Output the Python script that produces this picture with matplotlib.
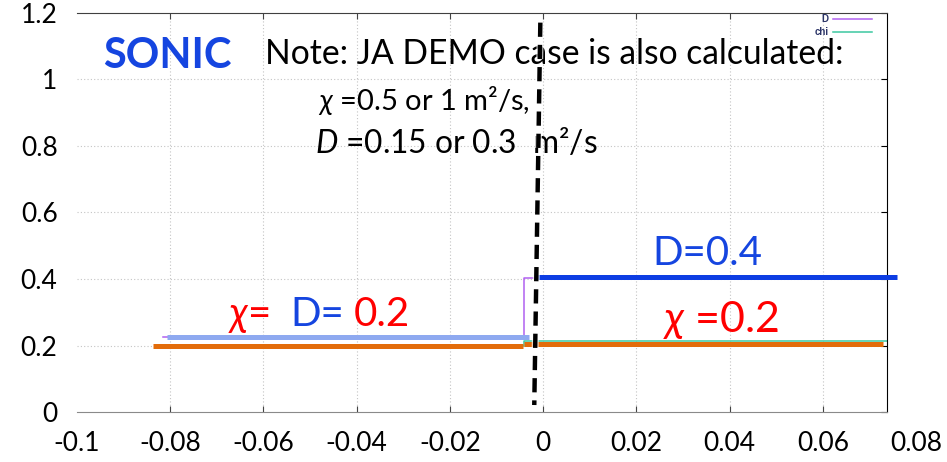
import matplotlib
matplotlib.use("Agg")
import matplotlib.pyplot as plt
import matplotlib.patheffects as pe

plt.rcParams['font.family'] = ['Lato', 'DejaVu Sans']
plt.rcParams['mathtext.fontset'] = 'custom'
plt.rcParams['mathtext.rm'] = 'Lato'
plt.rcParams['mathtext.it'] = 'Lato:italic'

# ---- data -------------------------------------------------------------
x_ticks = [-0.1, -0.08, -0.06, -0.04, -0.02, 0.0, 0.02, 0.04, 0.06, 0.08]
x_tick_labels = ["-0.1", "-0.08", "-0.06", "-0.04", "-0.02", "0", "0.02", "0.04", "0.06", "0.08"]
y_ticks = [0, 0.2, 0.4, 0.6, 0.8, 1.0, 1.2]
y_tick_labels = ["0", "0.2", "0.4", "0.6", "0.8", "1", "1.2"]

# simulation profiles (gnuplot lines)
D_x = [-0.0815, -0.0041, -0.0041, 0.0738]
D_y = [0.225, 0.225, 0.402, 0.402]
chi_x = [-0.0815, -0.0041, -0.0041, 0.0738]
chi_y = [0.200, 0.200, 0.213, 0.213]

# highlighted profiles (overlay bars)
chi_left_x = [-0.0837, -0.0043]
chi_left_y = [0.198, 0.198]
chi_right_x = [-0.0041, 0.0729]
chi_right_y = [0.204, 0.204]
D_left_x = [-0.0807, -0.0030]
D_left_y = [0.225, 0.225]
D_right_x = [-0.0013, 0.0760]
D_right_y = [0.405, 0.405]

# separatrix marker (dashed)
sep_x = [-0.0006, -0.0019]
sep_y = [1.171, 0.021]

frame_right = 0.0738

# ---- figure -------------------------------------------------------------
fig = plt.figure(figsize=(9.47, 4.62), dpi=100)
ax = fig.add_axes([0.0813, 0.1082, 0.886, 0.8637])
ax.set_xlim(-0.1, 0.08)
ax.set_ylim(0, 1.2)

grid_kw = dict(color='#c4c4c4', lw=0.8, linestyle=(0, (1, 2)), zorder=0)
for yv in y_ticks[1:-1]:
    ax.plot([-0.1, frame_right], [yv, yv], **grid_kw)
for xv in x_ticks[1:-1]:
    ax.plot([xv, xv], [0, 1.2], **grid_kw)

# thin simulation lines
ax.plot(D_x, D_y, color='#b060f0', lw=1.1, label='D', zorder=2)
ax.plot(chi_x, chi_y, color='#3cc8a0', lw=1.1, label='chi', zorder=2)

# thick overlay lines
ax.plot(D_left_x, D_left_y, color='#8ea9f0', lw=3.6, solid_capstyle='butt', zorder=3)
ax.plot(chi_left_x, chi_left_y, color='#e36c0a', lw=3.6, solid_capstyle='butt', zorder=3)
ax.plot(chi_right_x, chi_right_y, color='#e36c0a', lw=3.6, solid_capstyle='butt', zorder=3)
ax.plot(D_right_x, D_right_y, color='#0d3de3', lw=3.6, solid_capstyle='butt', zorder=3, clip_on=False)

ax.plot(sep_x, sep_y, color='black', lw=3.2, linestyle=(0, (3.2, 1.8)), zorder=5,
        path_effects=[pe.Stroke(linewidth=5, foreground='white', alpha=0.7), pe.Normal()])

# axes styling
ax.spines['left'].set_visible(False)
ax.spines['top'].set_bounds(-0.1, frame_right)
ax.spines['top'].set_color('#404040')
ax.spines['bottom'].set_bounds(-0.1, frame_right)
ax.spines['bottom'].set_color('#8a8a8a')
ax.spines['right'].set_position(('data', frame_right))
ax.spines['right'].set_color('black')

ax.set_xticks(x_ticks)
ax.set_xticklabels(x_tick_labels)
ax.set_yticks(y_ticks)
ax.set_yticklabels(y_tick_labels)
ax.tick_params(axis='x', direction='in', length=4, width=0.8, color='#444444',
               top=True, labelsize=19, pad=14, labelcolor='black')
ax.tick_params(axis='y', left=False, right=True, direction='in', length=4, width=0.8,
               labelsize=19, pad=14, labelcolor='black')
xt = ax.xaxis.get_major_ticks()
for i in (0, -1):
    xt[i].tick1line.set_visible(False)
    xt[i].tick2line.set_visible(False)

# legend
leg = ax.legend(loc='upper right', bbox_to_anchor=(872 / 947, 448 / 462),
                bbox_transform=fig.transFigure, frameon=False,
                markerfirst=False, handlelength=4.0, handletextpad=0.5,
                labelspacing=0.3, borderpad=0, borderaxespad=0,
                prop={'family': 'Liberation Sans', 'size': 7, 'weight': 'bold'})
for t in leg.get_texts():
    t.set_color('#2b3467')

# annotations
blue = '#1545e0'
ax.text(-0.0944, 1.036, 'SONIC', color=blue, fontsize=30, fontweight='bold',
        ha='left', va='baseline')
ax.text(-0.0596, 1.048, 'Note: JA DEMO case is also calculated:', color='black',
        fontsize=24.2, ha='left', va='baseline')
ax.text(-0.0483, 0.907, r'$\chi$ =0.5 or 1 m²/s,', color='black', fontsize=21,
        ha='left', va='baseline')
ax.text(-0.0489, 0.778, r'$D$ =0.15 or 0.3  m²/s', color='black', fontsize=22.8,
        ha='left', va='baseline')
ax.text(0.0234, 0.441, 'D=0.4', color=blue, fontsize=29, ha='left', va='baseline')
ax.text(0.0257, 0.240, r'$\chi$ =0.2', color='red', fontsize=31, ha='left', va='baseline')
ax.text(-0.0676, 0.258, r'$\chi$=', color='red', fontsize=29, ha='left', va='baseline')
ax.text(-0.0542, 0.258, 'D=', color=blue, fontsize=29, ha='left', va='baseline')
ax.text(-0.0407, 0.258, '0.2', color='red', fontsize=29, ha='left', va='baseline')

fig.savefig('out.png', dpi=100)
